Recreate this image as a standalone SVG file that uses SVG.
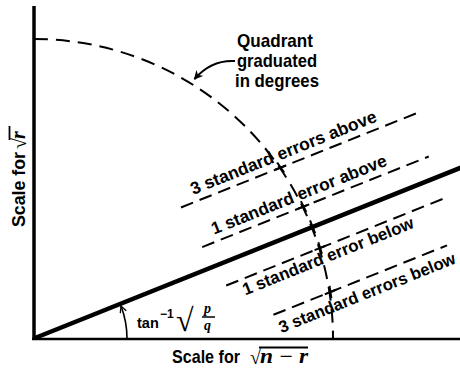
<svg xmlns="http://www.w3.org/2000/svg" width="460" height="371" viewBox="0 0 460 371">
<defs>
<style>
.ax{stroke:#000;fill:none;stroke-linecap:butt}
.dash{stroke:#000;stroke-width:2;fill:none;stroke-dasharray:13 7}
.circ{stroke:#000;stroke-width:2;fill:none;stroke-dasharray:14 8}
.tick{stroke:#000;stroke-width:2;fill:none}
.lab{font-family:"Liberation Sans",Arial,sans-serif;font-weight:bold;font-size:18.5px;fill:#000}
.seg{font-family:"Liberation Sans",Arial,sans-serif;font-weight:bold;fill:#000}
.math{font-family:"Liberation Serif","Times New Roman",serif;font-weight:bold;font-style:italic;fill:#000}
.rad{font-family:"Liberation Serif","DejaVu Serif",serif;font-weight:bold;fill:#000}
</style>
<marker id="head" viewBox="0 0 10 10" refX="9" refY="5" markerWidth="9" markerHeight="9" markerUnits="userSpaceOnUse" orient="auto">
<path d="M0,0 L10,5 L0,10 L3,5 z" fill="#000"/>
</marker>
<marker id="openhead" viewBox="0 0 10 10" refX="9" refY="5" markerWidth="8" markerHeight="8" markerUnits="userSpaceOnUse" orient="auto">
<path d="M1,1 L9,5 L1,9" fill="none" stroke="#000" stroke-width="1.6"/>
</marker>
</defs>

<g id="axes">
<line class="ax" x1="34" y1="6" x2="34" y2="340" stroke-width="3.5"/>
<line class="ax" x1="32" y1="339" x2="460" y2="339" stroke-width="2.5"/>
</g>

<g id="quadrant">
<path class="circ" d="M34 39 A 299 299 0 0 1 333 338"/>
</g>

<g id="connectors">
<path d="M235 61 C 218 60 204 68 194.5 79" fill="none" stroke="#000" stroke-width="2" marker-end="url(#head)"/>
<path d="M127 338 A 92 92 0 0 0 121 306" fill="none" stroke="#000" stroke-width="1.6" marker-end="url(#openhead)"/>
</g>

<g id="lines" transform="translate(35 338) rotate(-21.8)">
<line x1="0" y1="0" x2="470" y2="0" stroke="#000" stroke-width="4.5"/>
<line class="dash" x1="184" y1="-67" x2="440" y2="-67"/>
<line class="dash" x1="189" y1="-22.3" x2="433" y2="-22.3"/>
<line class="dash" x1="197" y1="22.3" x2="434" y2="22.3"/>
<line class="dash" x1="230" y1="67" x2="417" y2="67"/>
<g id="crossings">
<line class="tick" x1="285.4" y1="-67" x2="297.4" y2="-67"/>
<line class="tick" x1="290" y1="-73" x2="292.8" y2="-61"/>
<line class="tick" x1="292.2" y1="-22.3" x2="304.2" y2="-22.3"/>
<line class="tick" x1="297.7" y1="-28.3" x2="298.7" y2="-16.3"/>
<line class="tick" x1="299" y1="-7" x2="299" y2="7"/>
<line class="tick" x1="292.2" y1="22.3" x2="304.2" y2="22.3"/>
<line class="tick" x1="298.7" y1="16.3" x2="297.7" y2="28.3"/>
<line class="tick" x1="285.4" y1="67" x2="297.4" y2="67"/>
<line class="tick" x1="292.8" y1="61" x2="290" y2="73"/>
</g>
<g id="label-3above"><text class="seg" x="200" y="-74" style="font-size:17.4px" textLength="199" lengthAdjust="spacingAndGlyphs">3 standard errors above</text></g>
<g id="label-1above"><text class="seg" x="204.5" y="-29.3" style="font-size:17.3px" textLength="187.5" lengthAdjust="spacingAndGlyphs">1 standard error above</text></g>
<g id="label-1below"><text class="seg" x="211" y="38.5" style="font-size:17px" textLength="183" lengthAdjust="spacingAndGlyphs">1 standard error below</text></g>
<g id="label-3below"><text class="seg" x="230.6" y="87" style="font-size:16.7px" textLength="189" lengthAdjust="spacingAndGlyphs">3 standard errors below</text></g>
</g>

<g id="quadrant-label">
<text class="lab" x="237" y="47" textLength="76" lengthAdjust="spacingAndGlyphs">Quadrant</text>
<text class="lab" x="237" y="67" textLength="80" lengthAdjust="spacingAndGlyphs">graduated</text>
<text class="lab" x="235" y="87" textLength="84" lengthAdjust="spacingAndGlyphs">in degrees</text>
</g>

<g id="angle-label">
<text class="lab" x="137" y="328" style="font-size:14.5px">tan</text>
<text class="lab" x="160" y="318" style="font-size:12px">−1</text>
<text class="rad" x="176" y="331" style="font-size:32px">√</text>
<text class="math" x="204" y="313" style="font-size:14px">p</text>
<line x1="202" y1="317" x2="215" y2="317" stroke="#000" stroke-width="1.5"/>
<text class="math" x="204" y="330" style="font-size:14px">q</text>
</g>

<g id="x-label">
<text class="lab" x="172" y="363" textLength="68" lengthAdjust="spacingAndGlyphs">Scale for</text>
<text class="rad" x="250" y="364" style="font-size:20px">√</text>
<line x1="259" y1="347.5" x2="308" y2="347.5" stroke="#000" stroke-width="1.8"/>
<text class="math" x="260" y="363" style="font-size:20px" textLength="48" lengthAdjust="spacingAndGlyphs">n − r</text>
</g>

<g id="y-label" transform="translate(25 227) rotate(-90)">
<text class="lab" x="0" y="0" textLength="75" lengthAdjust="spacingAndGlyphs">Scale for</text>
<text class="rad" x="78" y="1" style="font-size:20px">√</text>
<line x1="87" y1="-15.5" x2="101" y2="-15.5" stroke="#000" stroke-width="1.8"/>
<text class="math" x="88" y="0" style="font-size:20px">r</text>
</g>
</svg>
